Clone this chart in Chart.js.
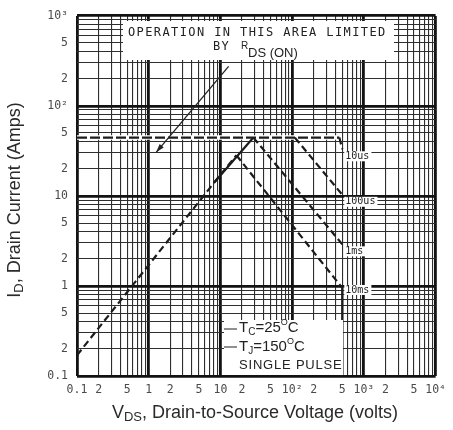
<!DOCTYPE html>
<html>
<head>
<meta charset="utf-8">
<script src="https://cdn.jsdelivr.net/npm/chart.js@4.4.1/dist/chart.umd.min.js"></script>
<style>
  html, body { margin: 0; padding: 0; background: #fff; }
</style>
</head>
<body>
<canvas id="soa" width="453" height="430"></canvas>
<script>
// Tick label (nilai dan teks)
const xTickValues = [0.1, 0.2, 0.5, 1, 2, 5, 10, 20, 50, 100, 200, 500, 1000, 2000, 5000, 10000];
const xTickLabels = ['0.1', '2', '5', '1', '2', '5', '10', '2', '5', '10²', '2', '5', '10³', '2', '5', '10⁴'];
const yTickValues = [0.1, 0.2, 0.5, 1, 2, 5, 10, 20, 50, 100, 200, 500, 1000];
const yTickLabels = ['0.1', '2', '5', '1', '2', '5', '10', '2', '5', '10²', '2', '5', '10³'];

// Dekade untuk grid
const xDecades = [0.1, 1, 10, 100, 1000, 10000];
const yDecades = [0.1, 1, 10, 100, 1000];

// Batas RDS(on)
const rdsV = [0.1, 8.3, 16.7];
const rdsI = [0.17, 14.3, 28.3];
// Batas arus pulsa
const limitV = [0.1, 455];
const limitI = [44.5, 44.5];
// Sisi kiri kurva pulsa pendek
const riseV = [8.3, 28.8];
const riseI = [14.3, 44.5];
// Kurva per lebar pulsa
const pulseNames = ['10us', '100us', '1ms', '10ms'];
const us10V = [455, 500];
const us10I = [44.5, 33];
const us100V = [109, 500];
const us100I = [44.5, 10.3];
const ms1V = [28.8, 500];
const ms1I = [44.5, 2.9];
const ms10V = [16.7, 500];
const ms10I = [28.3, 0.95];
// Batas tegangan breakdown
const bvV = [500, 500];
const bvI = [0.95, 0.1];
// Panah anotasi (V, A)
const arrowV = [13, 1.27];
const arrowI = [275, 30.5];

// Nilai grid: 1..9 per dekade
function gridValues(decades) {
  const out = [];
  decades.forEach(function (d, i) {
    if (i === decades.length - 1) { out.push(d); return; }
    for (let m = 1; m <= 9; m++) out.push(d * m);
  });
  return out;
}

function isDecade(v) {
  const l = Math.log10(v);
  return Math.abs(l - Math.round(l)) < 1e-6;
}

function labelFor(values, labels, v) {
  for (let i = 0; i < values.length; i++) {
    if (Math.abs(values[i] - v) / values[i] < 1e-6) return labels[i];
  }
  return '';
}

function pts(xs, ys) {
  return xs.map(function (x, i) { return { x: x, y: ys[i] }; });
}

function lineSet(xs, ys, opts) {
  return Object.assign({
    data: pts(xs, ys),
    showLine: true,
    borderColor: '#1c1c1c',
    borderWidth: 2.2,
    borderDash: [7, 4],
    pointRadius: 0,
    fill: false
  }, opts || {});
}

// Teks dengan subskrip / superskrip
function drawParts(c, parts, x, y, align) {
  let total = 0;
  parts.forEach(function (p) { c.font = p.font; total += c.measureText(p.t).width; });
  let cx = align === 'center' ? x - total / 2 : x;
  parts.forEach(function (p) {
    c.font = p.font;
    c.fillText(p.t, cx, y + (p.dy || 0));
    cx += c.measureText(p.t).width;
  });
}

const textPlugin = {
  id: 'soaText',
  afterDraw(chart) {
    const c = chart.ctx;
    const xs = chart.scales.x;
    const ys = chart.scales.y;
    c.save();
    c.textBaseline = 'middle';
    c.textAlign = 'left';

    // Kotak catatan atas
    c.fillStyle = '#fff';
    c.fillRect(123, 21, 271, 39);
    c.fillStyle = '#222';
    c.font = '12px "DejaVu Sans Mono"';
    c.letterSpacing = '1.4px';
    c.fillText('OPERATION IN THIS AREA LIMITED', 128, 33);
    c.fillText('BY', 213, 47);
    c.letterSpacing = '0px';
    c.font = '10px "Liberation Sans"';
    c.fillText('R', 241, 46);
    c.font = '13px "Liberation Sans"';
    c.fillText('DS (ON)', 248, 53);

    // Panah
    const ax0 = xs.getPixelForValue(arrowV[0]), ay0 = ys.getPixelForValue(arrowI[0]);
    const ax1 = xs.getPixelForValue(arrowV[1]), ay1 = ys.getPixelForValue(arrowI[1]);
    c.strokeStyle = '#222';
    c.lineWidth = 1.3;
    c.beginPath();
    c.moveTo(ax0, ay0);
    c.lineTo(ax1, ay1);
    c.stroke();
    const ang = Math.atan2(ay1 - ay0, ax1 - ax0);
    c.beginPath();
    c.moveTo(ax1, ay1);
    c.lineTo(ax1 - 9 * Math.cos(ang - 0.3), ay1 - 9 * Math.sin(ang - 0.3));
    c.lineTo(ax1 - 9 * Math.cos(ang + 0.3), ay1 - 9 * Math.sin(ang + 0.3));
    c.closePath();
    c.fill();

    // Label kurva pulsa
    const ends = [us10I, us100I, ms1I, ms10I];
    const offs = [7, 7, 7, 2];
    c.font = '10px "DejaVu Sans Mono"';
    pulseNames.forEach(function (name, i) {
      const px = xs.getPixelForValue(500) + 3;
      const py = ys.getPixelForValue(ends[i][ends[i].length - 1]) + offs[i];
      const w = c.measureText(name).width;
      c.fillStyle = '#fff';
      c.fillRect(px - 1, py - 5, w + 3, 10);
      c.fillStyle = '#222';
      c.fillText(name, px, py);
    });

    // Kotak kondisi bawah
    c.fillStyle = '#fff';
    c.fillRect(224, 320, 119, ys.bottom - 320 - 1);
    c.strokeStyle = '#222';
    c.lineWidth = 1.2;
    c.beginPath();
    c.moveTo(224, 329); c.lineTo(237, 329);
    c.moveTo(224, 347); c.lineTo(237, 347);
    c.stroke();
    c.fillStyle = '#222';
    drawParts(c, [
      { t: 'T', font: '15px "Liberation Sans"' },
      { t: 'C', font: '10px "Liberation Sans"', dy: 4 },
      { t: '=25', font: '15px "Liberation Sans"' },
      { t: 'O', font: '9px "Liberation Sans"', dy: -5 },
      { t: 'C', font: '15px "Liberation Sans"' }
    ], 239, 328, 'left');
    drawParts(c, [
      { t: 'T', font: '15px "Liberation Sans"' },
      { t: 'J', font: '10px "Liberation Sans"', dy: 4 },
      { t: '=150', font: '15px "Liberation Sans"' },
      { t: 'O', font: '9px "Liberation Sans"', dy: -5 },
      { t: 'C', font: '15px "Liberation Sans"' }
    ], 239, 347, 'left');
    c.font = '13px "Liberation Sans"';
    c.letterSpacing = '0.8px';
    c.fillText('SINGLE PULSE', 239, 365);
    c.letterSpacing = '0px';

    // Judul sumbu
    c.fillStyle = '#2a2a2a';
    drawParts(c, [
      { t: 'V', font: '18px "Liberation Sans"' },
      { t: 'DS', font: '13px "Liberation Sans"', dy: 4 },
      { t: ', Drain-to-Source Voltage (volts)', font: '18px "Liberation Sans"' }
    ], 255, 413, 'center');
    c.translate(15, 200);
    c.rotate(-Math.PI / 2);
    drawParts(c, [
      { t: 'I', font: '18px "Liberation Sans"' },
      { t: 'D', font: '13px "Liberation Sans"', dy: 4 },
      { t: ', Drain Current (Amps)', font: '18px "Liberation Sans"' }
    ], 0, 0, 'center');
    c.restore();
  }
};

function gridOpts() {
  return {
    drawTicks: false,
    color: function (g) { return g.tick && isDecade(g.tick.value) ? '#121212' : '#2e2e2e'; },
    lineWidth: function (g) { return g.tick && isDecade(g.tick.value) ? 2.8 : 1.1; }
  };
}

new Chart(document.getElementById('soa').getContext('2d'), {
  type: 'scatter',
  data: {
    datasets: [
      lineSet(rdsV, rdsI),
      lineSet(riseV, riseI, { borderDash: [] }),
      lineSet(limitV, limitI, { borderDash: [10, 3], borderWidth: 2.4 }),
      lineSet(us10V, us10I),
      lineSet(us100V, us100I),
      lineSet(ms1V, ms1I),
      lineSet(ms10V, ms10I),
      lineSet(bvV, bvI, { borderDash: [], borderWidth: 2.4 }),
      // alas putih garis batas arus
      lineSet(limitV, limitI, { borderDash: [], borderWidth: 4.5, borderColor: '#fff' })
    ]
  },
  options: {
    responsive: false,
    animation: false,
    layout: { padding: { left: 0, right: 14, top: 12, bottom: 0 } },
    plugins: {
      legend: { display: false },
      tooltip: { enabled: false }
    },
    scales: {
      x: {
        type: 'logarithmic',
        min: 0.1,
        max: 10000,
        afterBuildTicks: function (axis) {
          axis.ticks = gridValues(xDecades).map(function (v) { return { value: v }; });
        },
        afterFit: function (axis) { axis.height = 54; },
        border: { display: false },
        grid: gridOpts(),
        ticks: {
          autoSkip: false,
          maxRotation: 0,
          minRotation: 0,
          padding: 7,
          color: '#4a4a4a',
          font: { family: 'DejaVu Sans Mono', size: 11.5 },
          callback: function (v) { return labelFor(xTickValues, xTickLabels, v); }
        }
      },
      y: {
        type: 'logarithmic',
        min: 0.1,
        max: 1000,
        afterBuildTicks: function (axis) {
          axis.ticks = gridValues(yDecades).map(function (v) { return { value: v }; });
        },
        afterFit: function (axis) { axis.width = 77; },
        border: { display: false },
        grid: gridOpts(),
        ticks: {
          autoSkip: false,
          padding: 9,
          color: '#4a4a4a',
          font: { family: 'DejaVu Sans Mono', size: 11.5 },
          callback: function (v) { return labelFor(yTickValues, yTickLabels, v); }
        }
      }
    }
  },
  plugins: [textPlugin]
});
</script>
</body>
</html>
